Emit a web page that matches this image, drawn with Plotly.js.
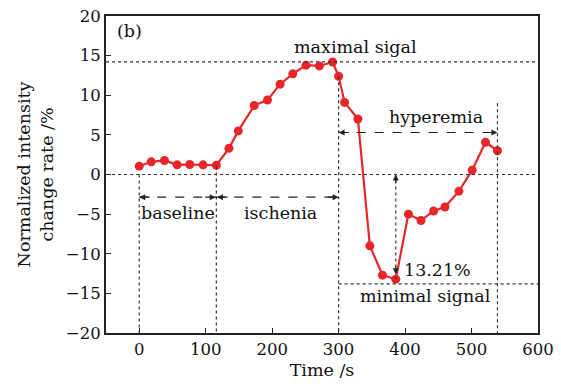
<!DOCTYPE html>
<html><head><meta charset="utf-8">
<script src="https://cdn.plot.ly/plotly-3.0.1.min.js"></script>
<style>body{margin:0;background:#fff}#c{width:561px;height:384px}</style>
</head><body><div id="c"></div>
<script>
const timeS = [0,18,38,57,76,96,116,135,149,173,193,212,231,251,271,291,300,309,329,347,366,386,405,424,443,460,481,501,521,539];
const rate  = [1.05,1.6,1.77,1.22,1.26,1.22,1.17,3.3,5.5,8.7,9.4,11.4,12.7,13.8,13.7,14.2,12.4,9.1,7.0,-9.0,-12.7,-13.21,-5.0,-5.8,-4.6,-4.1,-2.1,0.55,4.07,3.0];
const xTicks = [0,100,200,300,400,500,600];
const yTicks = [-20,-15,-10,-5,0,5,10,15,20];
const maxLevel = 14.2, minLevel = -13.8;
const phaseX = [0,116,300,539];
const labels = ["(b)","maximal sigal","hyperemia","baseline","ischenia","13.21%","minimal signal"];

const F = "DejaVu Serif, Liberation Serif, serif";
const red = "#e8262a";
const dot = {color:"#333", width:1.2, dash:"dot"};
const dash = {color:"#222", width:1.2, dash:"dash"};

const shapes = [
  {type:"line", xref:"x", yref:"y", x0:-50, x1:600, y0:maxLevel, y1:maxLevel, line:dot},
  {type:"line", xref:"x", yref:"y", x0:-50, x1:600, y0:0, y1:0, line:dot},
  {type:"line", xref:"x", yref:"y", x0:phaseX[2], x1:600, y0:minLevel, y1:minLevel, line:dot},
  {type:"line", xref:"x", yref:"y", x0:phaseX[0], x1:phaseX[0], y0:0, y1:-20, line:dot},
  {type:"line", xref:"x", yref:"y", x0:phaseX[1], x1:phaseX[1], y0:1, y1:-20, line:dot},
  {type:"line", xref:"x", yref:"y", x0:phaseX[2], x1:phaseX[2], y0:12.4, y1:-20, line:dot},
  {type:"line", xref:"x", yref:"y", x0:phaseX[3], x1:phaseX[3], y0:9, y1:-20, line:dot},
  {type:"line", xref:"x", yref:"y", x0:386, x1:386, y0:0, y1:-13.2, line:dot},
  {type:"line", xref:"x", yref:"y", x0:phaseX[0], x1:phaseX[1], y0:-2.86, y1:-2.86, line:dash},
  {type:"line", xref:"x", yref:"y", x0:phaseX[1], x1:phaseX[2], y0:-2.86, y1:-2.86, line:dash},
  {type:"line", xref:"x", yref:"y", x0:phaseX[2], x1:phaseX[3], y0:5.3, y1:5.3, line:dash}
];

function head(x,y,ax,ay){
  return {x:x,y:y,xref:"x",yref:"y",text:"",showarrow:true,arrowhead:2,arrowsize:1,arrowwidth:1.2,arrowcolor:"#222",ax:ax,ay:ay};
}
function txt(t,x,y,anchor){
  return {x:x,y:y,xref:"x",yref:"y",text:t,showarrow:false,xanchor:anchor||"center",yanchor:"middle",font:{family:F,size:17.5,color:"#111"}};
}
const annotations = [
  head(phaseX[0],-2.86,12,0), head(phaseX[1]-1,-2.86,-12,0),
  head(phaseX[1]+1,-2.86,12,0), head(phaseX[2],-2.86,-12,0),
  head(phaseX[2],5.3,12,0), head(phaseX[3],5.3,-12,0),
  head(386,0,0,10), head(386,-12.6,0,-10),
  txt(labels[0],-15,18.1),
  txt(labels[1],325,16.1),
  txt(labels[2],447,7.3),
  txt(labels[3],58,-4.8),
  txt(labels[4],213,-4.8),
  txt(labels[5],396,-12.0,"left"),
  txt(labels[6],430,-15.3)
];

const trace = {x:timeS, y:rate, mode:"lines+markers", type:"scatter",
  line:{color:red,width:2.2}, marker:{color:red,size:9}};

const layout = {
  width:561, height:384, showlegend:false,
  paper_bgcolor:"#fff", plot_bgcolor:"#fff",
  margin:{l:106,r:23,t:16,b:51},
  font:{family:F,size:16.5,color:"#111"},
  xaxis:{range:[-50,600], tickvals:xTicks, ticks:"inside", ticklen:5, tickcolor:"#222",
    showline:true, mirror:true, linecolor:"#222", linewidth:2, showgrid:false, zeroline:false,
    title:{text:"Time /s", font:{family:F,size:17.5}, standoff:6}},
  yaxis:{range:[-20,20], tickvals:yTicks, ticktext:yTicks.map(v=>v<0?"\u2212"+(-v):String(v)),
    ticks:"inside", ticklen:5, tickcolor:"#222",
    showline:true, mirror:true, linecolor:"#222", linewidth:2, showgrid:false, zeroline:false,
    title:{text:"Normalized intensity<br>change rate /%", font:{family:F,size:17.5}, standoff:8}},
  shapes:shapes, annotations:annotations
};
Plotly.newPlot("c",[trace],layout,{displayModeBar:false,staticPlot:true});
</script></body></html>
